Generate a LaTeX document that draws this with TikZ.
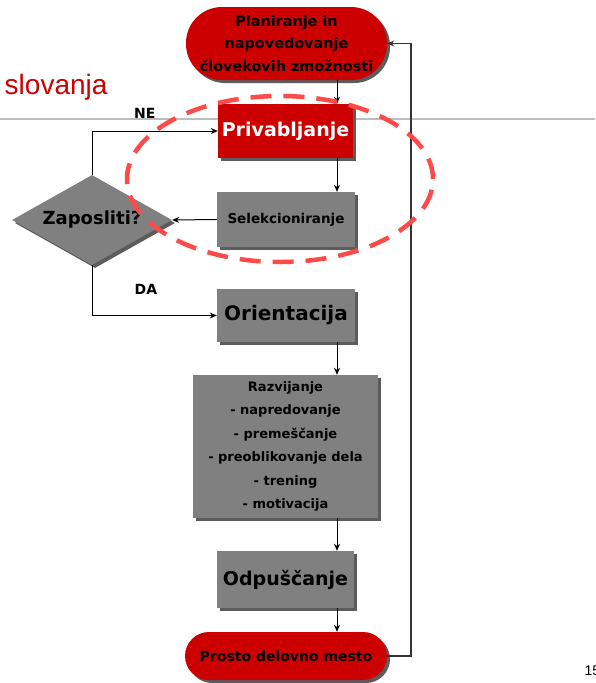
\documentclass[tikz,border=0pt]{standalone}
\usepackage{fontspec}
\setmainfont{DejaVu Sans}
\newfontfamily\arialfont{Liberation Sans}
\usetikzlibrary{shapes.geometric,shadows,arrows.meta}

\definecolor{slidered}{HTML}{CC0000}
\definecolor{boxgray}{HTML}{808080}
\definecolor{shadegray}{HTML}{5C5C5C}
\definecolor{ringred}{HTML}{FF4A4A}
\definecolor{rulegray}{HTML}{BDBDBD}

\begin{document}
\begin{tikzpicture}[x=1pt, y=-1pt, >={Stealth[length=7pt, width=6pt]},
    flow/.style={->, line width=1pt},
    shade/.style={drop shadow={shadow xshift=3pt, shadow yshift=-3pt,
        fill=shadegray, opacity=1}},
    redpill/.style={rectangle, fill=slidered, inner sep=0pt, align=center, shade},
    graybox/.style={rectangle, fill=boxgray, inner sep=0pt, align=center, shade},
    ring/.style={draw=ringred, line width=4.5pt, dash pattern=on 21pt off 12pt}]

    \useasboundingbox (0,0) rectangle (595,683);

    % Slide title rest and rule
    \node[anchor=base east, text=slidered, font=\arialfont\fontsize{28}{32}\selectfont]
        (title) at (111,94) {slovanja};
    \draw[rulegray, line width=1.5pt] (0,119) -- (595,119);
    \node[anchor=base west, font=\arialfont\fontsize{14}{16}\selectfont]
        (page) at (581,675) {15};

    % Spine of the arrows and the return loop
    \coordinate (spine) at (337,0);
    \coordinate (loop)  at (411,0);

    % Nodes
    \node[redpill, rounded corners=36pt, minimum width=201pt, minimum height=73pt,
        font=\bfseries\fontsize{14.4}{22.5}\selectfont]
        (plan) at (286.5,43.5) {Planiranje in\\napovedovanje\\človekovih zmožnosti};
    \node[redpill, minimum width=135pt, minimum height=54pt, text=white,
        font=\bfseries\fontsize{19}{22}\selectfont]
        (pri) at (285.5,131) {Privabljanje};
    \node[graybox, minimum width=138pt, minimum height=55pt,
        font=\bfseries\fontsize{13.5}{16}\selectfont]
        (sel) at (286,219.5) {Selekcioniranje};
    \node[diamond, aspect=1.78, fill=boxgray, inner sep=0pt, minimum width=160pt,
        minimum height=90pt, shade, font=\bfseries\fontsize{18}{21}\selectfont]
        (dia) at (92,220) {Zaposliti?};
    \node[graybox, minimum width=138pt, minimum height=53pt,
        font=\bfseries\fontsize{20}{24}\selectfont]
        (ori) at (286,315.5) {Orientacija};
    \node[graybox, minimum width=185pt, minimum height=143pt,
        font=\bfseries\fontsize{13}{23.5}\selectfont]
        (raz) at (285.5,446.5) {Razvijanje\\- napredovanje\\- premeščanje\\- preoblikovanje dela\\- trening\\- motivacija};
    \node[graybox, minimum width=137pt, minimum height=57pt,
        font=\bfseries\fontsize{19}{22}\selectfont]
        (odp) at (285.5,579.5) {Odpuščanje};
    \node[redpill, rounded corners=24pt, minimum width=202pt, minimum height=48pt,
        font=\bfseries\fontsize{14}{17}\selectfont]
        (prosto) at (286,656) {Prosto delovno mesto};

    % Main flow
    \draw[flow] (plan.south -| spine) -- (pri.north -| spine);
    \draw[flow] (pri.south -| spine) -- (sel.north -| spine);
    \draw[flow] (sel.west) -- (dia.east);
    \draw[flow] (ori.south -| spine) -- (raz.north -| spine);
    \draw[flow] (raz.south -| spine) -- (odp.north -| spine);
    \draw[flow] (odp.south -| spine) -- (prosto.north -| spine);

    % Decision branches
    \draw[flow] (dia.north) |- (pri.west)
        node[pos=0.71, above=9pt, font=\bfseries\fontsize{14}{16}\selectfont] (ne) {NE};
    \draw[flow] (dia.south) |- (ori.west)
        node[pos=0.716, above=17pt, font=\bfseries\fontsize{14}{16}\selectfont] (da) {DA};

    % Return loop
    \draw[->, black!80, line width=1.3pt] (prosto.east) -- (prosto.east -| loop)
        -- (plan.east -| loop) -- (plan.east);

    % Highlight ring
    \draw[ring] (280,179) ellipse [x radius=153pt, y radius=83pt];

\end{tikzpicture}
\end{document}
